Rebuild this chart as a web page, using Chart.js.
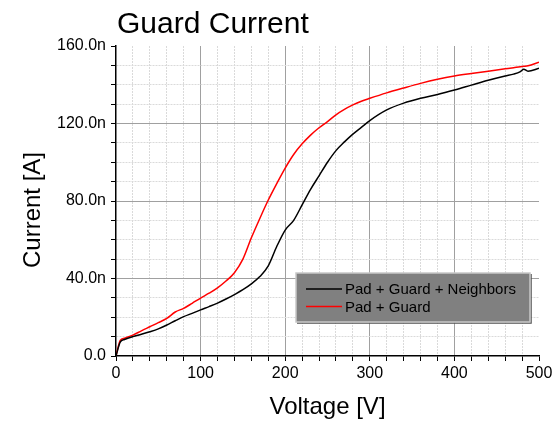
<!DOCTYPE html>
<html>
<head>
<meta charset="utf-8">
<title>Guard Current</title>
<script src="https://cdn.jsdelivr.net/npm/chart.js@4/dist/chart.umd.min.js"></script>
<style>
html, body { margin: 0; padding: 0; background: #fff; }
#wrap { width: 560px; height: 423px; position: relative; }
</style>
</head>
<body>
<div id="wrap"><canvas id="guardCurrent"></canvas></div>
<script>
// bias voltage [V]
var voltage = [0, 5, 10, 20, 30, 40, 50, 60, 70, 80, 90, 100, 110, 120, 130, 140, 150, 160, 170, 180,
	190, 200, 210, 220, 230, 240, 250, 260, 270, 280, 290, 300, 320, 340, 360, 380, 400, 420, 440, 460,
	470, 478, 482, 487, 500];

// current [nA]
var padGuardNeighbors = [0, 7.2, 8.5, 10, 11.2, 12.5, 14, 16, 18.2, 20.3, 22, 23.8, 25.5, 27.3, 29.4, 31.7, 34.2, 37.2, 41, 46.5,
	56.5, 65, 70, 78, 86, 93, 100, 106, 110.5, 114.5, 118, 121.5, 127, 130.5, 133, 135, 137.3, 139.8, 142.3, 144.5,
	145.5, 146.8, 148, 147, 148.5];
var padGuard = [0, 8, 9.2, 10.8, 13, 15.1, 17.2, 19.4, 22.7, 24.6, 27.2, 29.9, 32.4, 35.2, 38.7, 43, 50, 61, 71, 80.5,
	89, 97, 104, 109.5, 114, 117.8, 121, 124.5, 127.3, 129.6, 131.5, 133, 135.8, 138.3, 140.7, 142.8, 144.5, 145.8, 147, 148.2,
	148.8, 149.3, 149.5, 149.8, 151.6];

var seriesNames = ["Pad + Guard + Neighbors", "Pad + Guard"];
var yLabelTicks = [0, 40, 80, 120, 160];
var xLabelTicks = [0, 100, 200, 300, 400, 500];

var FONT = "'Liberation Sans', Arial, sans-serif";

function toPoints(xs, ys) {
	return xs.map(function(x, i) { return { x: x, y: ys[i] }; });
}

function gridColor(major, ctx) {
	var v = ctx.tick ? ctx.tick.value : null;
	if (v === null) return '#000';
	if (v === 0 || v === ctx.scale.max) return 'rgba(0,0,0,0)';
	return (v % major === 0) ? '#a0a0a0' : '#dadada';
}

function gridDash(major, ctx) {
	if (!ctx.tick) return [];
	return (ctx.tick.value % major === 0) ? [] : [2, 1];
}

// chart title, y axis title and the boxed legend
var decorations = {
	id: 'decorations',
	afterDraw: function(chart) {
		var c = chart.ctx, area = chart.chartArea;
		c.save();
		c.fillStyle = '#000';
		c.font = '30px ' + FONT;
		c.textAlign = 'left';
		c.textBaseline = 'alphabetic';
		c.fillText('Guard Current', area.left + 1, 33);

		c.save();
		c.translate(33, 210);
		c.rotate(-Math.PI / 2);
		c.font = '24px ' + FONT;
		c.textAlign = 'center';
		c.textBaseline = 'middle';
		c.fillText('Current [A]', 0, 0);
		c.restore();

		// legend box
		var bx = 296, by = 273, bw = 234, bh = 49;
		c.fillStyle = '#808080';
		c.fillRect(bx, by, bw, bh);
		c.strokeStyle = '#505050';
		c.lineWidth = 1.5;
		c.beginPath();
		c.moveTo(bx + bw + 1, by + 1);
		c.lineTo(bx + bw + 1, by + bh + 1);
		c.lineTo(bx + 1, by + bh + 1);
		c.stroke();
		c.strokeStyle = '#c8c8c8';
		c.lineWidth = 1.5;
		c.strokeRect(bx, by, bw, bh);

		c.font = '15px ' + FONT;
		c.textAlign = 'left';
		c.textBaseline = 'middle';
		chart.data.datasets.forEach(function(ds, i) {
			var ly = by + 16 + i * 17.5;
			c.strokeStyle = ds.borderColor;
			c.lineWidth = 1.5;
			c.beginPath();
			c.moveTo(bx + 10, ly);
			c.lineTo(bx + 46, ly);
			c.stroke();
			c.fillStyle = '#000';
			c.fillText(ds.label, bx + 49, ly + 1);
		});
		c.restore();
	}
};

var guardCurrentConfig = {
	type: 'line',
	data: {
		datasets: [{
			label: seriesNames[0],
			data: toPoints(voltage, padGuardNeighbors),
			borderColor: '#000000',
			borderWidth: 1.5,
			pointRadius: 0,
			cubicInterpolationMode: 'monotone',
		}, {
			label: seriesNames[1],
			data: toPoints(voltage, padGuard),
			borderColor: '#ff0000',
			borderWidth: 1.5,
			pointRadius: 0,
			cubicInterpolationMode: 'monotone',
		}]
	},
	options: {
		responsive: true,
		maintainAspectRatio: false,
		animation: false,
		layout: { padding: { top: 46, right: 21, left: 0, bottom: 0 } },
		plugins: {
			legend: { display: false },
			title: { display: false },
			tooltip: { enabled: false }
		},
		scales: {
			x: {
				type: 'linear',
				min: 0,
				max: 500,
				afterFit: function(scale) { scale.height = 67; },
				ticks: {
					stepSize: 20,
					autoSkip: false,
					maxRotation: 0,
					padding: 3,
					color: '#000',
					font: { family: FONT, size: 16 },
					callback: function(v) { return xLabelTicks.indexOf(v) >= 0 ? String(v) : ''; }
				},
				grid: {
					color: function(ctx) { return gridColor(100, ctx); },
					tickColor: '#000',
					tickLength: 5,
					lineWidth: 1
				},
				border: {
					color: '#000',
					width: 1.5,
					dash: function(ctx) { return gridDash(100, ctx); }
				},
				title: {
					display: true,
					text: 'Voltage [V]',
					color: '#000',
					font: { family: FONT, size: 24 },
					padding: { top: 0, bottom: 1 }
				}
			},
			y: {
				min: 0,
				max: 160,
				afterFit: function(scale) { scale.width = 116; },
				ticks: {
					stepSize: 10,
					autoSkip: false,
					padding: 5,
					color: '#000',
					font: { family: FONT, size: 16 },
					callback: function(v) {
						if (yLabelTicks.indexOf(v) < 0) return '';
						return v === 0 ? '0.0' : v.toFixed(1) + 'n';
					}
				},
				grid: {
					color: function(ctx) { return gridColor(40, ctx); },
					tickColor: '#000',
					tickLength: 5,
					lineWidth: 1
				},
				border: {
					color: '#000',
					width: 1.5,
					dash: function(ctx) { return gridDash(40, ctx); }
				}
			}
		}
	},
	plugins: [decorations]
};

window.onload = function() {
	var guardCurrent = document.getElementById("guardCurrent").getContext("2d");
	window.guardCurrent = new Chart(guardCurrent, guardCurrentConfig);
};
</script>
</body>
</html>
